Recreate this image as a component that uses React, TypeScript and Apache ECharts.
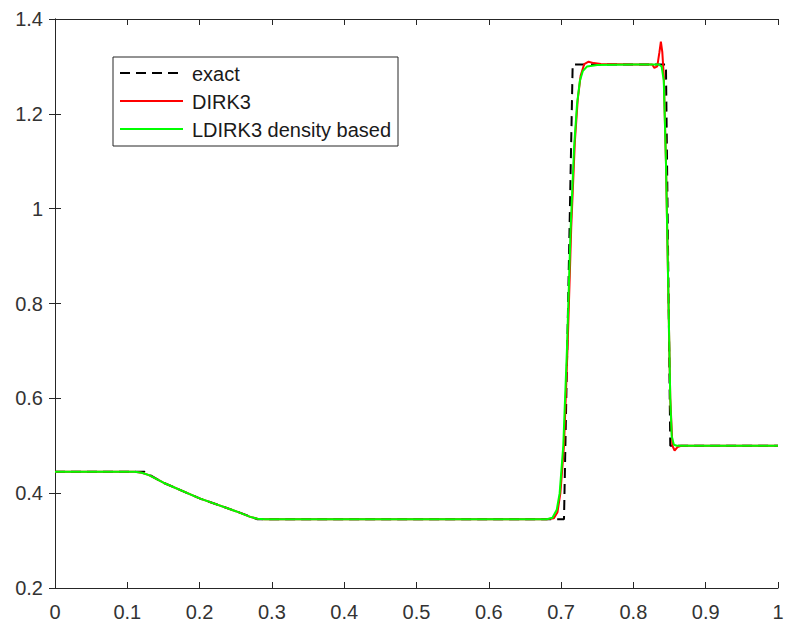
import React, { useEffect, useRef } from "react";
import * as echarts from "echarts";

// ---- data ----
const exactX = [0, 0.124, 0.15, 0.2, 0.25, 0.28, 0.704, 0.716, 0.845, 0.851, 1];
const exactY = [0.445, 0.445, 0.422, 0.389, 0.362, 0.345, 0.345, 1.304, 1.304, 0.5, 0.5];

const dirkX = [
  0, 0.11, 0.12, 0.13, 0.15, 0.2, 0.25, 0.27, 0.28, 0.29, 0.6, 0.68, 0.69, 0.695, 0.699, 0.704,
  0.709, 0.714, 0.719, 0.723, 0.727, 0.732, 0.738, 0.745, 0.755, 0.8, 0.826, 0.829, 0.833,
  0.836, 0.838, 0.84, 0.842, 0.845, 0.848, 0.851, 0.854, 0.857, 0.861, 0.866, 1,
];
const dirkY = [
  0.445, 0.445, 0.443, 0.438, 0.422, 0.389, 0.362, 0.35, 0.346, 0.345, 0.345, 0.345, 0.347,
  0.36, 0.4, 0.5, 0.71, 0.96, 1.14, 1.23, 1.28, 1.305, 1.31, 1.307, 1.305, 1.304, 1.304, 1.297,
  1.3, 1.33, 1.352, 1.33, 1.28, 1.1, 0.85, 0.6, 0.5, 0.49, 0.497, 0.5, 0.5,
];

const ldirkX = [
  0, 0.11, 0.12, 0.13, 0.15, 0.2, 0.25, 0.27, 0.28, 0.29, 0.4, 0.6, 0.68, 0.688, 0.694, 0.698,
  0.703, 0.708, 0.713, 0.718, 0.722, 0.726, 0.73, 0.736, 0.75, 0.8, 0.835, 0.839, 0.842, 0.845,
  0.848, 0.851, 0.853, 0.856, 0.86, 1,
];
const ldirkY = [
  0.445, 0.445, 0.443, 0.438, 0.422, 0.389, 0.362, 0.35, 0.346, 0.345, 0.345, 0.345, 0.345,
  0.348, 0.365, 0.4, 0.5, 0.7, 0.95, 1.13, 1.22, 1.27, 1.29, 1.3, 1.303, 1.304, 1.304, 1.3,
  1.27, 1.1, 0.85, 0.6, 0.52, 0.502, 0.5, 0.5,
];

const legendNames = ["exact", "DIRK3", "LDIRK3 density based"];

const zip = (xs: number[], ys: number[]) => xs.map((x, i) => [x, ys[i]]);

const FONT = "'Liberation Sans', Arial, Helvetica, sans-serif";
const AXIS = "#262626";

export default function App() {
  const ref = useRef<HTMLDivElement>(null);
  useEffect(() => {
    if (!ref.current) return;
    const chart = echarts.init(ref.current, null, { renderer: "svg" });
    const tickStyle = { show: true, inside: true, length: 6, lineStyle: { color: AXIS, width: 1 } };
    const lineStyleAxis = { show: true, lineStyle: { color: AXIS, width: 1 } };
    const legendRows = [73, 101, 129];
    const legendStyles = [
      { stroke: "#000000", lineWidth: 2, lineDash: [10, 6] },
      { stroke: "#ff0000", lineWidth: 2 },
      { stroke: "#00ff00", lineWidth: 2 },
    ];
    chart.setOption({
      animation: false,
      backgroundColor: "#ffffff",
      grid: { left: 55, right: 10, top: 19, bottom: 41, containLabel: false },
      xAxis: [
        {
          type: "value",
          min: 0,
          max: 1,
          interval: 0.1,
          position: "bottom",
          axisLine: lineStyleAxis,
          axisTick: tickStyle,
          splitLine: { show: false },
          axisLabel: { fontSize: 20, color: "#333", fontFamily: FONT, margin: 14 },
        },
        {
          type: "value",
          min: 0,
          max: 1,
          interval: 0.1,
          position: "top",
          axisLine: lineStyleAxis,
          axisTick: tickStyle,
          splitLine: { show: false },
          axisLabel: { show: false },
        },
      ],
      yAxis: [
        {
          type: "value",
          min: 0.2,
          max: 1.4,
          interval: 0.2,
          position: "left",
          axisLine: lineStyleAxis,
          axisTick: tickStyle,
          splitLine: { show: false },
          axisLabel: { fontSize: 20, color: "#333", fontFamily: FONT, margin: 12 },
        },
        {
          type: "value",
          min: 0.2,
          max: 1.4,
          interval: 0.2,
          position: "right",
          axisLine: lineStyleAxis,
          axisTick: tickStyle,
          splitLine: { show: false },
          axisLabel: { show: false },
        },
      ],
      series: [
        {
          name: legendNames[0],
          type: "line",
          data: zip(exactX, exactY),
          showSymbol: false,
          symbol: "none",
          lineStyle: { color: "#000000", width: 2, type: [10, 6] },
          z: 2,
        },
        {
          name: legendNames[1],
          type: "line",
          data: zip(dirkX, dirkY),
          showSymbol: false,
          symbol: "none",
          lineStyle: { color: "#ff0000", width: 2 },
          z: 3,
        },
        {
          name: legendNames[2],
          type: "line",
          data: zip(ldirkX, ldirkY),
          showSymbol: false,
          symbol: "none",
          lineStyle: { color: "#00ff00", width: 2 },
          z: 4,
        },
      ],
      graphic: [
        {
          type: "rect",
          shape: { x: 113, y: 57, width: 285, height: 89 },
          style: { fill: "#ffffff", stroke: AXIS, lineWidth: 1 },
          z: 100,
        },
        ...legendNames.map((name, i) => ({
          type: "line",
          shape: { x1: 120, y1: legendRows[i], x2: 183, y2: legendRows[i] },
          style: legendStyles[i],
          z: 101,
        })),
        ...legendNames.map((name, i) => ({
          type: "text",
          x: 192,
          y: legendRows[i] + 1,
          style: {
            text: name,
            fontSize: 20,
            fontFamily: FONT,
            fill: "#1a1a1a",
            verticalAlign: "middle",
            align: "left",
          },
          z: 101,
        })),
      ],
    });
    return () => chart.dispose();
  }, []);
  return (
    <div
      ref={ref}
      style={{ position: "fixed", left: 0, top: 0, width: 788, height: 629, background: "#fff" }}
    />
  );
}
